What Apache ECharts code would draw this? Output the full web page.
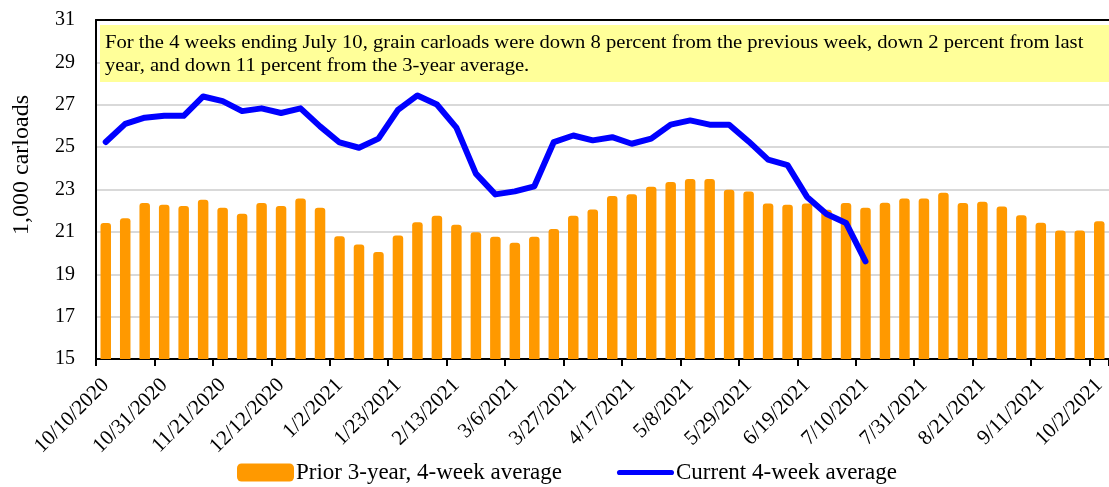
<!DOCTYPE html>
<html>
<head>
<meta charset="utf-8">
<script src="https://cdn.jsdelivr.net/npm/echarts@6/dist/echarts.min.js"></script>
<style>
html,body{margin:0;padding:0;background:#fff;}
#chart{width:1109px;height:487px;}
</style>
</head>
<body>
<div id="chart"></div>
<script>
const categories = [
  '10/10/2020','10/17/2020','10/24/2020','10/31/2020','11/7/2020','11/14/2020','11/21/2020','11/28/2020',
  '12/5/2020','12/12/2020','12/19/2020','12/26/2020','1/2/2021','1/9/2021','1/16/2021','1/23/2021',
  '1/30/2021','2/6/2021','2/13/2021','2/20/2021','2/27/2021','3/6/2021','3/13/2021','3/20/2021',
  '3/27/2021','4/3/2021','4/10/2021','4/17/2021','4/24/2021','5/1/2021','5/8/2021','5/15/2021',
  '5/22/2021','5/29/2021','6/5/2021','6/12/2021','6/19/2021','6/26/2021','7/3/2021','7/10/2021',
  '7/17/2021','7/24/2021','7/31/2021','8/7/2021','8/14/2021','8/21/2021','8/28/2021','9/4/2021',
  '9/11/2021','9/18/2021','9/25/2021','10/2/2021'
];
const prior3YearAvg = [
  21.42, 21.64, 22.36, 22.28, 22.22, 22.52, 22.14, 21.86, 22.36, 22.22, 22.58, 22.14, 20.79,
  20.41, 20.05, 20.83, 21.46, 21.76, 21.34, 20.98, 20.77, 20.49, 20.77, 21.13, 21.76, 22.06,
  22.69, 22.78, 23.13, 23.35, 23.49, 23.49, 22.99, 22.91, 22.34, 22.28, 22.34, 22.05, 22.36,
  22.14, 22.38, 22.57, 22.57, 22.85, 22.36, 22.42, 22.20, 21.78, 21.43, 21.07, 21.07, 21.50
];
const current4WeekAvg = [
  25.24, 26.10, 26.39, 26.48, 26.48, 27.39, 27.17, 26.70, 26.83, 26.61, 26.83, 25.98, 25.22,
  24.97, 25.40, 26.76, 27.44, 27.01, 25.92, 23.75, 22.77, 22.91, 23.15, 25.24, 25.55, 25.32,
  25.47, 25.16, 25.40, 26.06, 26.26, 26.06, 26.06, 25.27, 24.41, 24.15, 22.65, 21.84, 21.42,
  19.61
];
const yTicks = { min: 15, max: 31, interval: 2 };
const noteLines = [
  'For the 4 weeks ending July 10, grain carloads were down 8 percent from the previous week, down 2 percent from last',
  'year, and down 11 percent from the 3-year average.'
];
const seriesNames = ['Prior 3-year, 4-week average', 'Current 4-week average'];
const yAxisTitle = '1,000 carloads';

const serif = '"Liberation Serif", "Times New Roman", serif';
const chart = echarts.init(document.getElementById('chart'), null, { renderer: 'canvas' });
chart.setOption({
  animation: false,
  backgroundColor: '#fff',
  grid: { left: 96, top: 20, width: 1018, bottom: 128 },
  legend: {
    left: 232, top: 456,
    itemGap: 55, itemWidth: 57, itemHeight: 18,
    symbolKeepAspect: true,
    textStyle: { fontFamily: serif, fontSize: 23, color: '#000', padding: [0, 0, 0, -3] },
    data: [
      { name: seriesNames[0], icon: 'roundRect' },
      {
        name: seriesNames[1],
        icon: 'path://M2.5,0 L52.5,0 A2.5,2.5 0 0 1 52.5,5 L2.5,5 A2.5,2.5 0 0 1 2.5,0 Z',
        itemStyle: { color: '#0000FF' }
      }
    ]
  },
  xAxis: [
    {
      type: 'category',
      data: categories,
      boundaryGap: true,
      axisLine: { lineStyle: { color: '#000', width: 2 } },
      axisTick: { show: true, interval: 2, length: 7, lineStyle: { color: '#000', width: 2 } },
      axisLabel: {
        interval: 2, rotate: 45, fontFamily: serif, fontSize: 21, color: '#000', margin: 23
      },
      splitLine: { show: false }
    },
    {
      type: 'category',
      data: categories,
      position: 'top',
      boundaryGap: true,
      axisLine: { show: true, lineStyle: { color: '#000', width: 2 } },
      axisTick: { show: false },
      axisLabel: { show: false },
      splitLine: { show: false }
    }
  ],
  yAxis: {
    type: 'value',
    min: yTicks.min, max: yTicks.max, interval: yTicks.interval,
    axisLine: { show: true, lineStyle: { color: '#000', width: 2 } },
    axisTick: { show: false },
    axisLabel: { fontFamily: serif, fontSize: 20, color: '#000', margin: 21 },
    splitLine: { lineStyle: { color: '#D9D9D9', width: 2 } }
  },
  graphic: [
    {
      type: 'rect', z: 10,
      shape: { x: 100, y: 25, width: 1020, height: 57 },
      style: { fill: '#FFFF99' }
    },
    {
      type: 'text', z: 11, x: 105, y: 31, scaleX: 1.085,
      style: {
        text: noteLines.join('\n'),
        font: '19px ' + serif, fill: '#000', lineHeight: 23.3,
        textVerticalAlign: 'top'
      }
    },
    {
      type: 'text', z: 11, x: 22, y: 165, rotation: Math.PI / 2,
      style: {
        text: yAxisTitle, font: '24px ' + serif, fill: '#000',
        textAlign: 'center', textVerticalAlign: 'middle'
      }
    }
  ],
  series: [
    {
      name: seriesNames[0],
      type: 'bar',
      xAxisIndex: 0,
      data: prior3YearAvg,
      barWidth: 10.5,
      itemStyle: { color: '#FF9900', borderRadius: [3, 3, 0, 0] },
      z: 2
    },
    {
      name: seriesNames[1],
      type: 'line',
      xAxisIndex: 0,
      data: current4WeekAvg,
      symbol: 'none',
      lineStyle: { color: '#0000FF', width: 6, cap: 'round', join: 'round' },
      itemStyle: { color: '#0000FF' },
      z: 3
    }
  ]
});
</script>
</body>
</html>
